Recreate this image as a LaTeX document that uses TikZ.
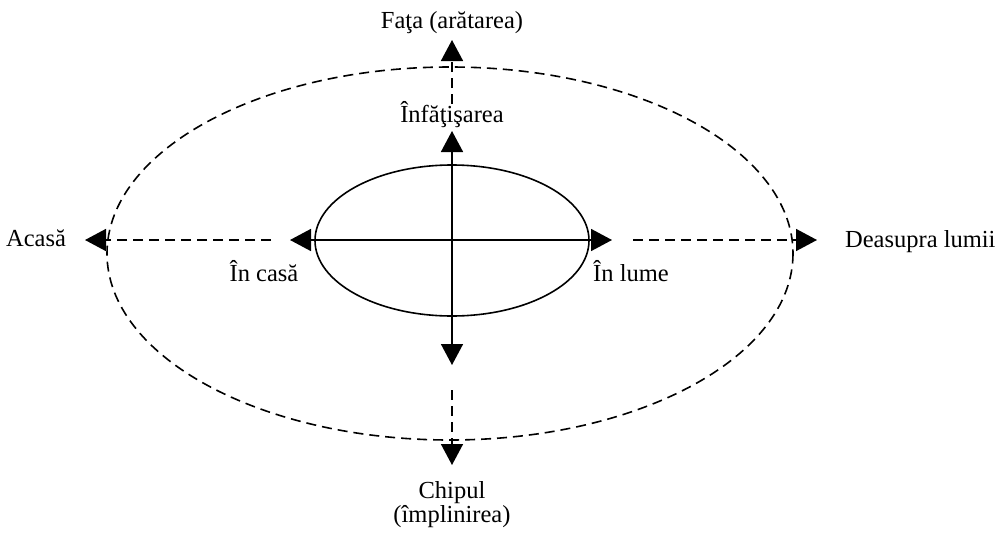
\documentclass[tikz,border=0pt]{standalone}
\usepackage{fontspec}
\setmainfont{Liberation Serif}
\usetikzlibrary{arrows.meta}

\begin{document}
\begin{tikzpicture}[x=1pt,y=-1pt,line width=1.6pt,
    >={Triangle[length=21pt,width=22pt]},
    dashline/.style={dash pattern=on 10pt off 6pt},
    every node/.style={font=\fontsize{24.5}{22}\selectfont,anchor=base}]
  \useasboundingbox (0,0) rectangle (999,533);
  % the two ellipses
  \draw[dashline] (450,253.5) ellipse[x radius=343,y radius=186.5];
  \draw (452,240.5) ellipse[x radius=137,y radius=75.5];
  \coordinate (C) at (452,240);
  % inner arrows
  \coordinate (upIn) at (452,131);
  \coordinate (downIn) at (452,365);
  \coordinate (leftIn) at (290,240);
  \coordinate (rightIn) at (612,240);
  \draw[->] (C) -- (upIn);
  \draw[->] (C) -- (downIn);
  \draw[->] (C) -- (leftIn);
  \draw[->] (C) -- (rightIn);
  % outer arrows
  \coordinate (upStart) at (452,104);
  \coordinate (upOut) at (452,40);
  \coordinate (downStart) at (452,390);
  \coordinate (downOut) at (452,465);
  \coordinate (leftStart) at (271,240);
  \coordinate (leftOut) at (85,240);
  \coordinate (rightStart) at (633,240);
  \coordinate (rightOut) at (817,240);
  \draw[dashline,->] (upStart) -- (upOut);
  \draw[dashline,->] (downStart) -- (downOut);
  \draw[dashline,->] (leftStart) -- (leftOut);
  \draw[dashline,->] (rightStart) -- (rightOut);
  % labels
  \node (fata) at (452,28) {Faţa (arătarea)};
  \node (infatisarea) at (452,122) {Înfăţişarea};
  \node (acasa) at (36,246) {Acasă};
  \node (incasa) at (264,281) {În casă};
  \node (inlume) at (631,281) {În lume};
  \node[anchor=base west] (deasupra) at (841,247) {Deasupra lumii};
  \node[align=center] (chipul) at (452,522) {Chipul\\(împlinirea)};
\end{tikzpicture}
\end{document}
